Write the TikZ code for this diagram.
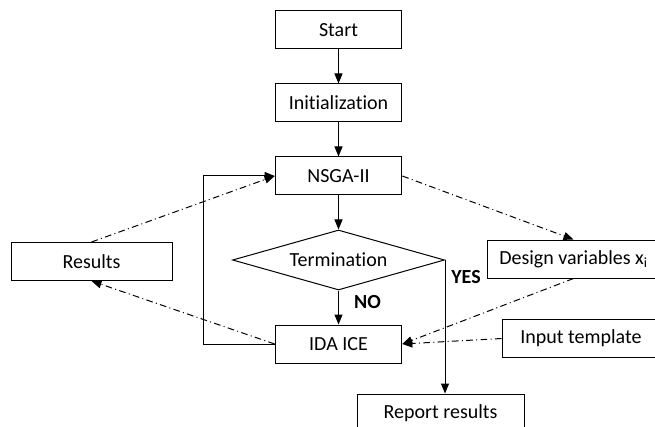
\documentclass[tikz,border=0pt]{standalone}
\usepackage{fontspec}
\setmainfont{Carlito}[Ligatures=NoCommon]
\usetikzlibrary{shapes.geometric,positioning,chains,arrows.meta}

\begin{document}
\begin{tikzpicture}[%
    x=0.75pt, y=-0.75pt,                  % pixel-like units, y going down
    >={Triangle[length=7.5pt,width=6pt]}, % filled arrow heads
    line width=0.75pt,
    start chain=going below,              % main flow is top-to-bottom
    node distance=25.5pt,
    every node/.style={font=\fontsize{15}{18}\selectfont},
    ]
\tikzset{
  base/.style={draw, on chain, align=center, minimum height=28.5pt},
  proc/.style={base, rectangle, minimum width=95pt},
  test/.style={base, diamond, aspect=3.5, minimum width=159pt, minimum height=45pt, inner sep=0pt},
  side/.style={draw, rectangle, minimum height=28.5pt},
  dd/.style={dash pattern=on 5pt off 2.5pt on 0.75pt off 2.5pt},
  lbl/.style={font=\fontsize{15}{18}\selectfont\bfseries},
}
\useasboundingbox (0,0) rectangle (655,427);

\node [proc] (start) at (338.5,30) {Start};
\node [proc] (init) {Initialization};
\node [proc] (nsga) {NSGA-II};
\node [test] (termin) {Termination};
\node [proc] (ida) {IDA ICE};

\node [side, minimum width=120.75pt] (results) at (91.5,261.5) {Results};
\node [side, minimum width=129.75pt] (design) at (573.5,259) {Design variables x\textsubscript{i}};
\node [side, minimum width=118.5pt] (input) at (581,338.5) {Input template};
\node [side, minimum width=125.25pt] (report) at (440.5,413) {Report results};

%connect
\draw [->] (start.south) -- (init.north);
\draw [->] (init.south) -- (nsga.north);
\draw [->] (nsga.south) -- (termin.north);
\draw [->] (termin.south) -- node [lbl, right, pos=0.35, xshift=8pt] {NO} (ida.north);
\draw [->] (termin.east) -- node [lbl, right, pos=0.13, xshift=1pt] {YES} (termin.east |- report.north);
\draw [->] (ida.west) -- ++(-71,0) |- (nsga.west);

\draw [dd,->] (results.north) -- (nsga.west);
\draw [dd,->] (ida.west) -- (results.south);
\draw [dd,->] (nsga.east) -- (design.north);
\draw [dd,->] (design.south) -- (ida.east);
\draw [dd,->] (input.west) -- (ida.east);

\end{tikzpicture}
\end{document}
